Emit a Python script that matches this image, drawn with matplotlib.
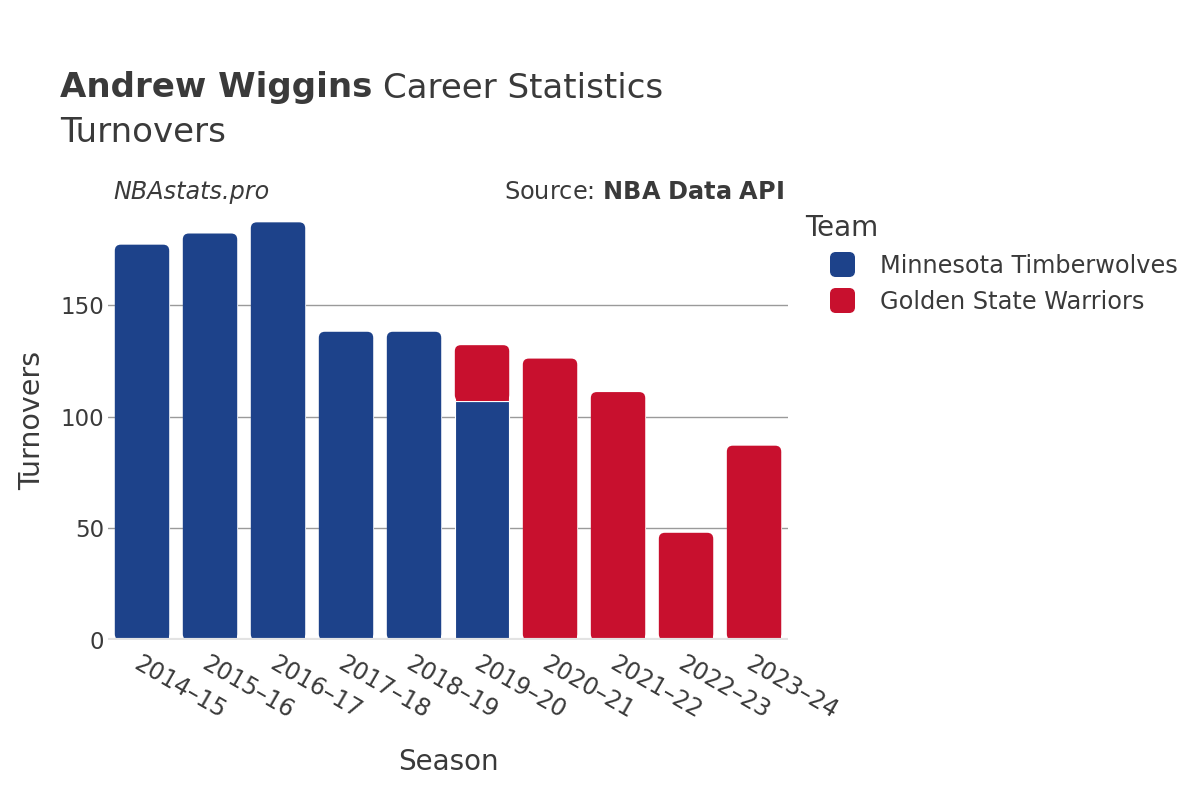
import matplotlib
matplotlib.use("Agg")
import matplotlib.pyplot as plt
from matplotlib.patches import FancyBboxPatch
import numpy as np

seasons = ["2014–15", "2015–16", "2016–17", "2017–18", "2018–19",
           "2019–20", "2020–21", "2021–22", "2022–23", "2023–24"]
teams = ["Minnesota Timberwolves", "Golden State Warriors"]
min_tov = [177, 182, 187, 138, 138, 107, 0, 0, 0, 0]
gsw_tov = [0, 0, 0, 0, 0, 25, 126, 111, 48, 87]
colors = ["#1D428A", "#C8102E"]
yticks = [0, 50, 100, 150]

TXT = "#3a3a3a"
plt.rcParams['font.family'] = ['DejaVu Sans']

fig = plt.figure(figsize=(12, 8), dpi=100)
ax = fig.add_axes([0.09, 0.2, 0.5667, 0.55])

x = np.arange(len(seasons))
width = 0.8
ymax = 197
ax.set_xlim(-0.5, len(seasons) - 0.5)
ax.set_ylim(0, ymax)

series = [min_tov, gsw_tov]
bottoms = np.zeros(len(seasons))
all_bars = []
for vals, col in zip(series, colors):
    bars = ax.bar(x, vals, width=width, bottom=bottoms, color=col,
                  edgecolor="white", linewidth=0.8, zorder=3)
    all_bars.append((bars, np.array(vals)))
    bottoms = bottoms + np.array(vals)

# round the top corners of the top-most segment of each bar
px_per_x = 680 / len(seasons)
px_per_y = 440 / ymax
r_px = 6
rx = r_px / px_per_x
ry = r_px / px_per_y
totals = bottoms
for bars, vals in all_bars:
    for rect, v in zip(bars, vals):
        if v <= 0:
            rect.set_visible(False)
            continue
        x0, y0 = rect.get_x(), rect.get_y()
        w, h = rect.get_width(), rect.get_height()
        if abs((y0 + h) - totals[int(round(x0 + w / 2))]) < 1e-6:
            rect.set_height(max(h - ry, 0))
            rp = FancyBboxPatch((x0, y0), w, h,
                                boxstyle=f"round,pad=0,rounding_size={rx}",
                                mutation_aspect=ry / rx,
                                facecolor=rect.get_facecolor(),
                                edgecolor="none", zorder=3)
            ax.add_patch(rp)

ax.set_yticks(yticks)
ax.set_yticklabels([str(t) for t in yticks])
ax.set_xticks(x)
ax.set_xticklabels(seasons, rotation=-30, ha="left", va="top",
                   rotation_mode="anchor")
ax.tick_params(axis="both", length=0, colors=TXT)
ax.tick_params(axis="y", labelsize=16.5, pad=3)
ax.tick_params(axis="x", labelsize=17, pad=8)
for s in ax.spines.values():
    s.set_visible(False)
ax.grid(axis="y", color="#9a9a9a", linewidth=1, zorder=0)
ax.set_axisbelow(True)
ax.axhline(0, color="#e3e3e3", linewidth=3, zorder=4)

ax.set_ylabel("Turnovers", fontsize=20.5, color=TXT, labelpad=10)
ax.set_xlabel("Season", fontsize=20, color=TXT, labelpad=18)

# titles
fig.text(60 / 1200, 1 - 88 / 800, "Andrew Wiggins", fontsize=24.5,
         fontweight="bold", color=TXT, va="center", ha="left")
fig.canvas.draw()
t = fig.texts[-1]
bb = t.get_window_extent()
fig.text((bb.x1 + 11) / 1200, 1 - 88 / 800, "Career Statistics",
         fontsize=24.5, color=TXT, va="center", ha="left")
fig.text(60 / 1200, 1 - 132 / 800, "Turnovers", fontsize=24.5, color=TXT,
         va="center", ha="left")

fig.text(113 / 1200, 1 - 192 / 800, "NBAstats.pro", fontsize=17.2,
         style="italic", color=TXT, va="center", ha="left")
fig.text(784 / 1200, 1 - 192 / 800, r"Source: $\bf{NBA\ Data\ API}$",
         fontsize=17.3, color=TXT, va="center", ha="right")

# legend with rounded-square markers
rsq = FancyBboxPatch((-0.5, -0.5), 1, 1,
                     boxstyle="round,pad=0,rounding_size=0.22").get_path()
handles = [plt.Line2D([0], [0], marker=rsq, linestyle="none", markersize=17,
                      markerfacecolor=c, markeredgecolor=c) for c in colors]
leg = fig.legend(handles, teams, loc="upper left",
                 bbox_to_anchor=(796 / 1200, 1 - 204 / 800), frameon=False,
                 fontsize=17.3, title="Team", title_fontsize=20,
                 labelcolor=TXT, handlelength=3.0, handletextpad=0.1,
                 labelspacing=0.5, borderaxespad=0)
leg.get_title().set_color(TXT)
leg._legend_box.align = "left"

fig.savefig("out.png", dpi=100, facecolor="white")
